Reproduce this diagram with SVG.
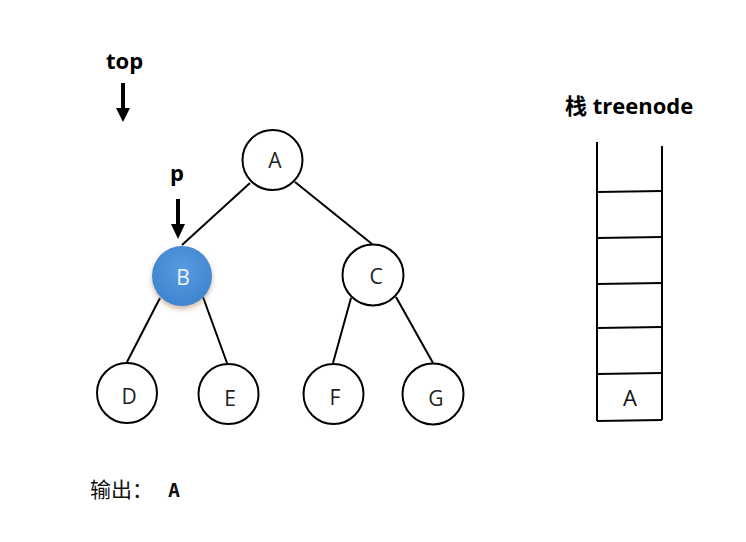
<svg xmlns="http://www.w3.org/2000/svg" width="746" height="542" viewBox="0 0 746 542">
<style>
.n{fill:#fff;stroke:#000;stroke-width:2}
.l{font-family:"Open Sans","Liberation Sans",sans-serif;font-size:21px;text-anchor:middle;fill:#222}
.e{stroke:#000;stroke-width:2;fill:none}
.b{font-family:"Open Sans","Noto Sans CJK SC",sans-serif;font-weight:bold;font-size:22px;fill:#000}
</style>
<defs>
<radialGradient id="gb" cx="0.5" cy="0.4" r="0.6">
<stop offset="0" stop-color="#5a9be0"/>
<stop offset="1" stop-color="#3d85cf"/>
</radialGradient>
<filter id="sh" x="-30%" y="-30%" width="160%" height="170%">
<feDropShadow dx="0" dy="3" stdDeviation="2.5" flood-color="#a07050" flood-opacity="0.5"/>
</filter>
</defs>
<rect width="746" height="542" fill="#fff"/>
<g id="connectors">
<line class="e" x1="250" y1="183" x2="182" y2="245"/>
<line class="e" x1="295" y1="182" x2="372" y2="244"/>
<line class="e" x1="160" y1="298" x2="127" y2="362"/>
<line class="e" x1="203" y1="297" x2="227" y2="363"/>
<line class="e" x1="351" y1="298" x2="333" y2="363"/>
<line class="e" x1="396" y1="297" x2="433" y2="363"/>
</g>
<g id="arrow-top">
<text class="b" x="106" y="69">top</text>
<line x1="123" y1="83" x2="123" y2="110" stroke="#000" stroke-width="4"/>
<path d="M116,108 L130,108 L123,122 Z" fill="#000"/>
</g>
<g id="arrow-p">
<text class="b" x="170" y="181">p</text>
<line x1="178" y1="199" x2="178" y2="226" stroke="#000" stroke-width="4"/>
<path d="M171,224 L185,224 L178,239 Z" fill="#000"/>
</g>
<g id="node-A"><circle class="n" cx="272.5" cy="160" r="30"/><text class="l" x="275" y="168">A</text></g>
<g id="node-B"><circle cx="182" cy="276" r="30" fill="url(#gb)" filter="url(#sh)"/><text class="l" x="183" y="285" style="fill:#eef6ff">B</text></g>
<g id="node-C"><circle class="n" cx="373" cy="275" r="30.5"/><text class="l" x="376" y="284">C</text></g>
<g id="node-D"><circle class="n" cx="127" cy="393" r="30"/><text class="l" x="129" y="404">D</text></g>
<g id="node-E"><circle class="n" cx="228.5" cy="394" r="30"/><text class="l" x="230" y="406">E</text></g>
<g id="node-F"><circle class="n" cx="333.5" cy="394" r="30"/><text class="l" x="335" y="405">F</text></g>
<g id="node-G"><circle class="n" cx="433" cy="394" r="30.5"/><text class="l" x="436" y="406">G</text></g>
<g id="stack">
<text class="b" x="565" y="114">栈 treenode</text>
<line class="e" x1="597" y1="142" x2="597" y2="421"/>
<line class="e" x1="662" y1="146" x2="662" y2="420"/>
<line class="e" x1="597" y1="192" x2="662" y2="191"/>
<line class="e" x1="597" y1="238" x2="662" y2="237"/>
<line class="e" x1="597" y1="284" x2="662" y2="283"/>
<line class="e" x1="597" y1="328" x2="662" y2="327"/>
<line class="e" x1="597" y1="374" x2="662" y2="373"/>
<line class="e" x1="597" y1="421" x2="662" y2="420"/>
<text class="l" x="630" y="406" style="font-size:22px;fill:#111">A</text>
</g>
<g id="output">
<text x="90" y="497" style="font-family:'Noto Sans CJK SC',sans-serif;font-size:21px;fill:#111">输出：</text>
<text x="168" y="497" style="font-family:'DejaVu Sans Mono','Liberation Mono',monospace;font-weight:bold;font-size:20px;fill:#111">A</text>
</g>
</svg>
